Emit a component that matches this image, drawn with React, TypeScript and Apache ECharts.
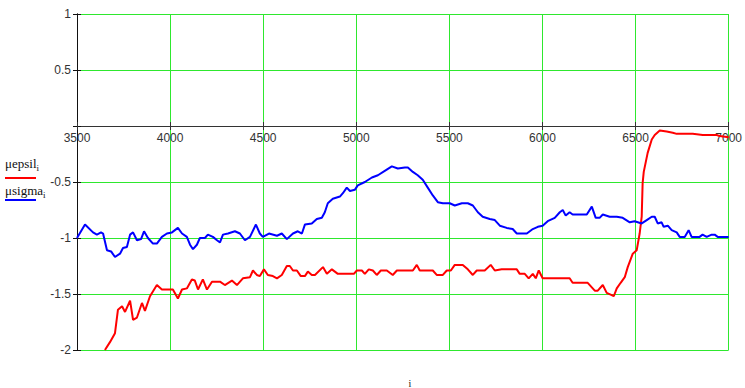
import React, { useEffect, useRef } from "react";
import * as echarts from "echarts";

const xTicks = [3500, 4000, 4500, 5000, 5500, 6000, 6500, 7000];
const yTicks = [-2, -1.5, -1, -0.5, 0, 0.5, 1];

const sigmaX = [3500, 3543, 3586, 3607, 3629, 3640, 3661, 3683, 3704, 3731, 3747, 3768, 3785, 3801, 3822, 3844, 3860, 3881, 3908, 3929, 3956, 3983, 4010, 4042, 4064, 4090, 4107, 4123, 4144, 4160, 4187, 4203, 4230, 4252, 4268, 4284, 4311, 4348, 4375, 4402, 4429, 4461, 4482, 4498, 4531, 4574, 4600, 4627, 4660, 4686, 4708, 4724, 4761, 4788, 4815, 4831, 4847, 4874, 4912, 4928, 4949, 4966, 4992, 5008, 5046, 5084, 5116, 5153, 5191, 5223, 5261, 5277, 5304, 5330, 5357, 5384, 5411, 5438, 5465, 5502, 5529, 5567, 5599, 5626, 5653, 5679, 5717, 5744, 5771, 5808, 5840, 5862, 5916, 5948, 5975, 6001, 6028, 6066, 6093, 6109, 6125, 6146, 6162, 6200, 6238, 6265, 6286, 6307, 6324, 6361, 6399, 6431, 6469, 6495, 6533, 6560, 6587, 6603, 6619, 6640, 6651, 6673, 6694, 6721, 6737, 6764, 6785, 6801, 6844, 6860, 6882, 6909, 6925, 6941, 7000];
const sigmaY = [-1.0, -0.88, -0.95, -0.97, -0.95, -0.96, -1.11, -1.12, -1.17, -1.14, -1.09, -1.08, -0.97, -0.95, -1.02, -1.01, -0.94, -1.0, -1.05, -1.05, -0.99, -0.96, -0.95, -0.91, -0.96, -0.99, -1.06, -1.1, -1.06, -1.0, -1.0, -0.97, -0.99, -1.02, -1.04, -0.97, -0.96, -0.94, -0.96, -1.02, -0.99, -0.88, -0.96, -0.99, -0.96, -0.98, -0.96, -1.01, -0.96, -0.94, -0.96, -0.88, -0.87, -0.83, -0.82, -0.77, -0.69, -0.65, -0.63, -0.6, -0.55, -0.58, -0.57, -0.53, -0.5, -0.46, -0.44, -0.4, -0.36, -0.38, -0.37, -0.37, -0.41, -0.44, -0.48, -0.55, -0.62, -0.68, -0.69, -0.69, -0.71, -0.69, -0.69, -0.71, -0.77, -0.81, -0.83, -0.84, -0.89, -0.91, -0.92, -0.96, -0.96, -0.92, -0.9, -0.89, -0.85, -0.82, -0.77, -0.75, -0.8, -0.77, -0.79, -0.79, -0.79, -0.72, -0.82, -0.82, -0.79, -0.81, -0.81, -0.82, -0.86, -0.85, -0.87, -0.84, -0.81, -0.81, -0.87, -0.86, -0.9, -0.89, -0.93, -0.95, -0.99, -0.99, -0.93, -0.99, -0.99, -0.97, -0.99, -0.97, -0.97, -0.99, -0.99];

const epsilX = [3650, 3677, 3704, 3720, 3742, 3758, 3785, 3801, 3822, 3849, 3865, 3892, 3929, 3956, 3983, 4015, 4042, 4064, 4090, 4117, 4133, 4150, 4176, 4198, 4225, 4268, 4294, 4332, 4359, 4391, 4429, 4445, 4466, 4482, 4504, 4525, 4552, 4574, 4600, 4627, 4643, 4660, 4681, 4702, 4724, 4740, 4761, 4778, 4821, 4842, 4869, 4901, 4987, 5003, 5030, 5046, 5067, 5089, 5110, 5132, 5164, 5196, 5218, 5304, 5325, 5341, 5411, 5432, 5465, 5486, 5508, 5529, 5572, 5599, 5626, 5647, 5690, 5722, 5744, 5781, 5862, 5878, 5905, 5926, 5948, 5964, 5980, 6001, 6146, 6162, 6243, 6281, 6297, 6324, 6345, 6372, 6383, 6399, 6420, 6442, 6458, 6485, 6506, 6522, 6533, 6538, 6544, 6565, 6587, 6603, 6630, 6667, 6700, 6721, 6775, 6807, 6861, 6936, 6952, 7000];
const epsilY = [-2.0, -1.93, -1.85, -1.64, -1.61, -1.66, -1.56, -1.73, -1.71, -1.58, -1.65, -1.52, -1.42, -1.46, -1.46, -1.46, -1.54, -1.46, -1.45, -1.37, -1.38, -1.46, -1.37, -1.46, -1.39, -1.39, -1.42, -1.38, -1.42, -1.36, -1.35, -1.29, -1.33, -1.34, -1.28, -1.33, -1.34, -1.36, -1.33, -1.25, -1.25, -1.29, -1.29, -1.34, -1.34, -1.3, -1.33, -1.33, -1.26, -1.32, -1.28, -1.32, -1.32, -1.29, -1.29, -1.32, -1.28, -1.29, -1.33, -1.29, -1.29, -1.33, -1.29, -1.29, -1.24, -1.29, -1.29, -1.33, -1.33, -1.29, -1.29, -1.24, -1.24, -1.28, -1.33, -1.29, -1.29, -1.24, -1.29, -1.28, -1.28, -1.32, -1.32, -1.36, -1.32, -1.36, -1.29, -1.36, -1.36, -1.4, -1.4, -1.47, -1.47, -1.42, -1.49, -1.51, -1.52, -1.45, -1.4, -1.35, -1.26, -1.14, -1.11, -0.96, -0.81, -0.51, -0.41, -0.24, -0.12, -0.08, -0.04, -0.05, -0.06, -0.07, -0.07, -0.07, -0.08, -0.08, -0.09, -0.1];

const GREEN = "#2ee82e";
const LABEL = { color: "#333", fontFamily: "Liberation Sans", fontSize: 12 };

// plot rectangle
const TOP = 14;
const BOTTOM_GAP = 38;
const PLOT_H = 388 - TOP - BOTTOM_GAP; // 336
const ZERO_OFFSET = -(PLOT_H * (0 - yTicks[0])) / (yTicks[yTicks.length - 1] - yTicks[0]); // move x axis to y = 0

export default function App() {
  const ref = useRef<HTMLDivElement>(null);
  useEffect(() => {
    if (!ref.current) return;
    const chart = echarts.init(ref.current, undefined, { renderer: "svg" });
    const xBase = {
      type: "value" as const,
      min: xTicks[0],
      max: xTicks[xTicks.length - 1],
      interval: 500,
      position: "bottom" as const,
      offset: ZERO_OFFSET,
      axisLine: { show: true, onZero: false, lineStyle: { color: "#333", width: 1 } },
    };
    const yBase = {
      type: "value" as const,
      min: yTicks[0],
      max: yTicks[yTicks.length - 1],
      interval: 0.5,
      position: "left" as const,
      axisLine: { show: true, onZero: false, lineStyle: { color: "#111", width: 1 } },
    };
    chart.setOption({
      animation: false,
      backgroundColor: "#fff",
      grid: { left: 77, right: 16, top: TOP, bottom: BOTTOM_GAP },
      xAxis: [
        {
          ...xBase,
          axisTick: { show: true, length: 4, lineStyle: { color: "#333" } },
          axisLabel: {
            ...LABEL,
            margin: 6,
            showMinLabel: true,
            showMaxLabel: true,
            formatter: (v: number) => String(v),
          },
          splitLine: { show: true, lineStyle: { color: GREEN, width: 1 } },
        },
        {
          ...xBase,
          axisTick: { show: true, length: 4, inside: true, lineStyle: { color: "#333" } },
          axisLabel: { show: false },
          splitLine: { show: false },
        },
      ],
      yAxis: [
        {
          ...yBase,
          axisTick: { show: true, length: 4, lineStyle: { color: "#111" } },
          axisLabel: {
            ...LABEL,
            margin: 6,
            formatter: (v: number) => (v === 0 ? "" : String(v)),
          },
          splitLine: { show: true, lineStyle: { color: GREEN, width: 1 } },
        },
        {
          ...yBase,
          axisTick: { show: true, length: 4, inside: true, lineStyle: { color: "#111" } },
          axisLabel: { show: false },
          splitLine: { show: false },
        },
      ],
      series: [
        {
          name: "μepsil",
          type: "line",
          data: epsilX.map((x, i) => [x, epsilY[i]]),
          showSymbol: false,
          symbol: "none",
          lineStyle: { color: "#ff0000", width: 2 },
          z: 3,
        },
        {
          name: "μsigma",
          type: "line",
          data: sigmaX.map((x, i) => [x, sigmaY[i]]),
          showSymbol: false,
          symbol: "none",
          lineStyle: { color: "#0000ff", width: 2 },
          z: 3,
        },
      ],
      graphic: [
        {
          type: "text",
          left: 5,
          top: 157,
          style: {
            text: "{a|μepsil}{b|i}",
            rich: {
              a: { fontFamily: "Liberation Serif", fontSize: 13, fill: "#111" },
              b: { fontFamily: "Liberation Serif", fontSize: 9, fill: "#111", padding: [8, 0, 0, 0] },
            },
          },
        },
        {
          type: "line",
          shape: { x1: 5, y1: 178, x2: 36, y2: 178 },
          style: { stroke: "#ff0000", lineWidth: 2 },
        },
        {
          type: "text",
          left: 5,
          top: 184,
          style: {
            text: "{a|μsigma}{b|i}",
            rich: {
              a: { fontFamily: "Liberation Serif", fontSize: 13, fill: "#111" },
              b: { fontFamily: "Liberation Serif", fontSize: 9, fill: "#111", padding: [8, 0, 0, 0] },
            },
          },
        },
        {
          type: "line",
          shape: { x1: 5, y1: 200, x2: 36, y2: 200 },
          style: { stroke: "#0000ff", lineWidth: 2 },
        },
        {
          type: "text",
          x: 410,
          y: 383,
          style: {
            text: "i",
            fontFamily: "Liberation Serif",
            fontSize: 10,
            fill: "#111",
            align: "center",
            verticalAlign: "middle",
          },
        },
      ],
    });
    return () => chart.dispose();
  }, []);
  return (
    <div
      ref={ref}
      style={{ position: "fixed", left: 0, top: 0, width: 745, height: 388, background: "#fff" }}
    />
  );
}
